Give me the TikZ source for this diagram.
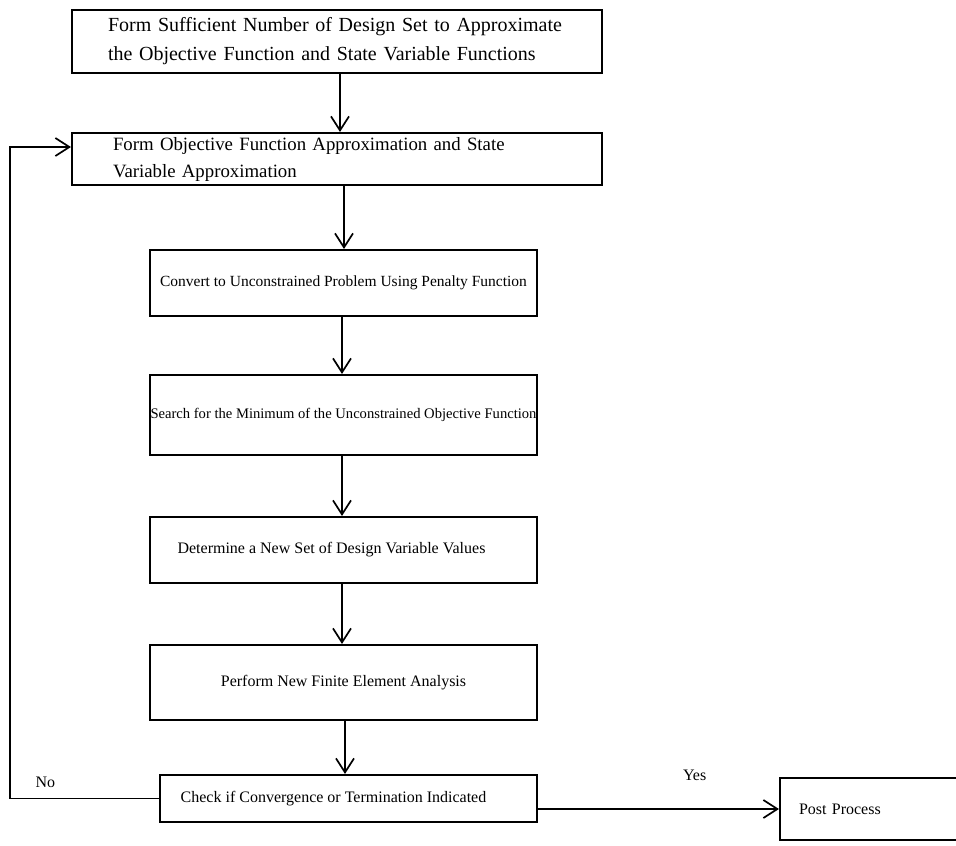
\documentclass[tikz,border=0pt]{standalone}
\usepackage{fontspec}
\setmainfont{Liberation Serif}
\usetikzlibrary{positioning, arrows.meta, calc}

\begin{document}
\begin{tikzpicture}[
    x=1pt, y=-1pt,
    box/.style={rectangle, draw=black, line width=2.1pt, inner sep=0pt,
                align=center, font=\fontsize{16}{18}\selectfont},
    topbox/.style={box, minimum width=530pt, text width=458pt, align=left},
    midbox/.style={box, minimum width=387pt},
    arrow/.style={-{Straight Barb[length=14pt, width=18pt, line width=1.7pt]}, line width=1.7pt},
    tag/.style={font=\fontsize{16}{18}\selectfont}
  ]
    \useasboundingbox (0,0) rectangle (956,846);

    % main chain
    \node[topbox, minimum height=63pt, font=\fontsize{20}{29}\selectfont] (form) at (337,41.5)
      {Form Sufficient Number of Design Set to Approximate\\the Objective Function and State Variable Functions};
    \node[topbox, minimum height=52pt, text width=448pt, font=\fontsize{18.8}{27}\selectfont] (approx) at (337,159)
      {Form Objective Function Approximation and State\\Variable Approximation};
    \node[midbox, minimum height=66pt, font=\fontsize{15.5}{18}\selectfont] (convert) at (343.5,283)
      {Convert to Unconstrained Problem Using Penalty Function};
    \node[midbox, minimum height=80pt, font=\fontsize{14.6}{18}\selectfont] (search) at (343.5,415)
      {Search for the Minimum of the Unconstrained Objective Function};
    \node[midbox, minimum height=66pt] (newset) at (343.5,550)
      {Determine a New Set of Design Variable Values\hspace*{24pt}};
    \node[midbox, minimum height=75pt] (fea) at (343.5,682.5)
      {Perform New Finite Element Analysis};
    \node[box, minimum width=377pt, minimum height=47pt] (check) at (348.5,798.5)
      {Check if Convergence or Termination Indicated\hspace*{30pt}};
    \node[box, minimum width=180pt, minimum height=62pt, text width=170pt, align=left] (post) at (870,809)
      {\hspace*{14pt}Post Process};

    \draw[arrow] (form.south -| 340,0) -- (approx.north -| 340,0);
    \draw[arrow] (approx.south -| 344,0) -- (convert.north -| 344,0);
    \draw[arrow] (convert.south -| 342,0) -- (search.north -| 342,0);
    \draw[arrow] (search.south -| 342,0) -- (newset.north -| 342,0);
    \draw[arrow] (newset.south -| 342,0) -- (fea.north -| 342,0);
    \draw[arrow] (fea.south -| 345,0) -- (check.north -| 345,0);

    % yes / no branches
    \draw[arrow] (check.east |- post.west) -- (post.west) node[tag, pos=0.65, above=24pt] {Yes};
    \coordinate (loop) at (check.west -| 10,0);
    \draw[arrow] (check.west) -- (loop) |- ($(approx.west)+(0,-12)$);
    \node[tag, above right=7pt and 22pt of loop] (no) {No};
  \end{tikzpicture}
\end{document}
